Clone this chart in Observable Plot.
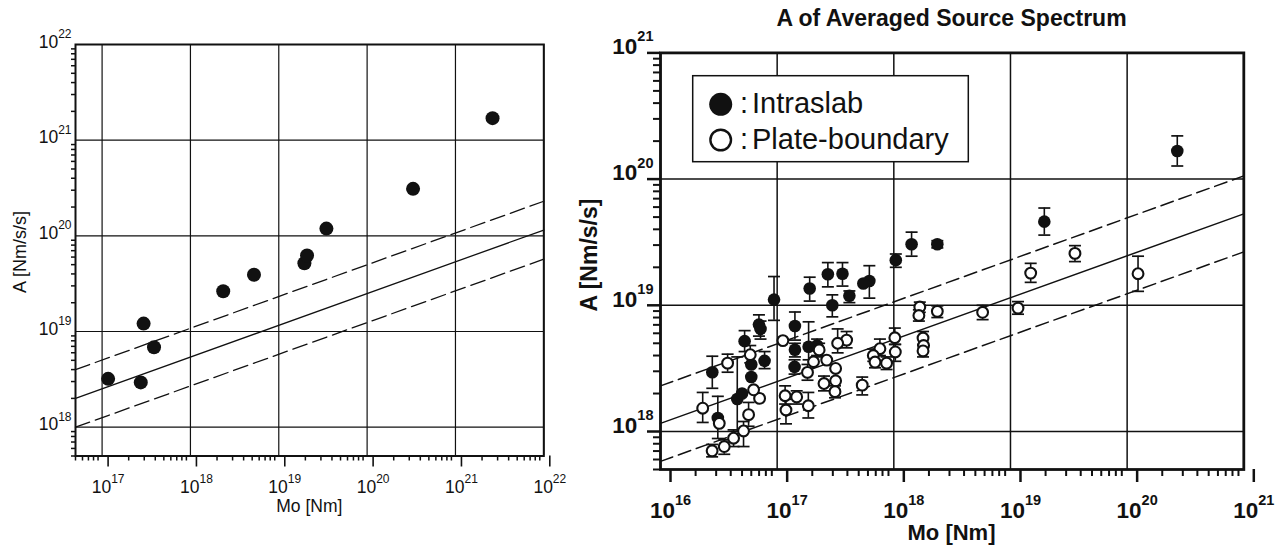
<!DOCTYPE html>
<html>
<head>
<meta charset="utf-8">
<script src="https://cdn.jsdelivr.net/npm/d3@7"></script>
<script src="https://cdn.jsdelivr.net/npm/@observablehq/plot@0.6"></script>
<style>
  html, body { margin: 0; padding: 0; background: #fff; }
  #page { position: relative; width: 1287px; height: 549px; overflow: hidden; font-family: "Liberation Sans", Arial, sans-serif; }
  #left { position: absolute; left: 0; top: 0; }
  #right { position: absolute; left: 580px; top: 0; }
  #overlay { position: absolute; left: 0; top: 0; pointer-events: none; }
</style>
</head>
<body>
<div id="page">
  <div id="left"></div>
  <div id="right"></div>
  <svg id="overlay" width="1287" height="549"></svg>
</div>
<script>
// ---------------- DATA ----------------
// Left panel
const leftXDomain = [5e16, 1e22];
const leftYDomain = [5e17, 1e22];
const leftXTicks = [1e17, 1e18, 1e19, 1e20, 1e21, 1e22];
const leftYTicks = [1e18, 1e19, 1e20, 1e21, 1e22];
const leftMo = [1.17e17, 2.95e17, 2.74e17, 3.87e17, 2.35e18, 5.24e18, 1.95e19, 2.09e19, 3.46e19, 3.31e20, 2.63e21];
const leftA  = [3.2e18, 1.21e19, 2.94e18, 6.84e18, 2.64e19, 3.92e19, 5.18e19, 6.23e19, 1.19e20, 3.1e20, 1.7e21];
const leftLineMo = [5e16, 1e22];
const leftSolidA = [2.0e18, 1.15e20];
const leftUpperA = [4.0e18, 2.3e20];
const leftLowerA = [1.0e18, 5.7e19];

// Right panel
const rightXDomain = [1e16, 1e21];
const rightYDomain = [5e17, 1e21];
const rightXTicks = [1e16, 1e17, 1e18, 1e19, 1e20, 1e21];
const rightYTicks = [1e18, 1e19, 1e20, 1e21];
const rightLineMo = [1e16, 1e21];
const rightSolidA = [1.16e18, 5.3e19];
const rightUpperA = [2.3e18, 1.06e20];
const rightLowerA = [5.8e17, 2.65e19];

const intraMo = [2.69e20, 1.95e19, 2.36e18, 1.42e18, 1.04e18, 6.17e17, 5.48e17, 3.63e17, 2.72e17, 4.16e17, 2.97e17, 1.9e17, 9.4e16, 1.42e17, 6.98e16, 7.2e16, 5.26e16, 7.8e16, 1.42e17, 1.41e17, 1.86e17, 2.2e17, 6.0e16, 6.0e16, 2.78e16, 4.55e16, 5.0e16, 3.1e16];
const intraA  = [1.67e20, 4.6e19, 3.05e19, 3.05e19, 2.28e19, 1.56e19, 1.49e19, 1.78e19, 1.76e19, 1.19e19, 1.0e19, 1.36e19, 1.11e19, 6.86e18, 7.03e18, 6.5e18, 5.2e18, 3.63e18, 4.45e18, 3.25e18, 4.7e18, 4.8e18, 3.4e18, 2.7e18, 2.95e18, 1.81e18, 2.0e18, 1.28e18];
const intraLo = [1.27e20, 3.6e19, 2.85e19, 2.45e19, 2.0e19, 1.14e19, null, 1.42e19, 1.4e19, 1.05e19, 8.1e18, 1.08e19, 7.6e18, 5.3e18, 5.7e18, 5.4e18, 4.3e18, 3.15e18, 3.9e18, 2.85e18, 3.7e18, 4.0e18, null, null, 2.2e18, 1.0e18, null, 8.8e17];
const intraHi = [2.2e20, 5.9e19, 3.25e19, 3.8e19, 2.55e19, 2.06e19, null, 2.18e19, 2.18e19, 1.3e19, 1.21e19, 1.67e19, 1.69e19, 8.85e18, 8.4e18, 7.5e18, 6.3e18, 4.3e18, 5.0e18, 3.7e18, 7.4e18, 5.4e18, null, null, 3.95e18, 3.9e18, null, 1.9e18];

const plateMo = [1.24e20, 3.57e19, 1.49e19, 1.16e19, 5.77e18, 2.36e18, 1.67e18, 1.64e18, 1.78e18, 1.8e18, 1.78e18, 1.02e18, 1.03e18, 7.6e17, 6.67e17, 6.9e17, 8.67e17, 5.36e17, 3.94e17, 3.3e17, 3.17e17, 3.17e17, 3.13e17, 2.66e17, 2.52e17, 2.29e17, 2.05e17, 1.82e17, 1.85e17, 1.47e17, 1.17e17, 1.19e17, 1.12e17, 7.07e16, 6.28e16, 5.88e16, 5.69e16, 5.15e16, 4.23e16, 3.76e16, 3.52e16, 3.19e16, 2.77e16, 2.3e16];
const plateA  = [1.78e19, 2.58e19, 1.8e19, 9.5e18, 8.8e18, 8.96e18, 9.7e18, 8.3e18, 5.5e18, 4.8e18, 4.35e18, 5.53e18, 4.27e18, 4.53e18, 4.0e18, 3.55e18, 3.48e18, 2.33e18, 5.3e18, 5.0e18, 3.16e18, 2.52e18, 2.07e18, 3.68e18, 2.4e18, 4.43e18, 3.57e18, 2.94e18, 1.6e18, 1.88e18, 1.92e18, 1.48e18, 5.25e18, 1.83e18, 2.14e18, 4.06e18, 1.36e18, 1.01e18, 8.85e17, 3.48e18, 7.6e17, 1.16e18, 7.03e17, 1.53e18];
const plateLo = [1.29e19, 2.22e19, 1.52e19, 8.5e18, 7.7e18, 8.0e18, 8.8e18, 7.5e18, 4.9e18, null, 3.9e18, 4.9e18, 3.6e18, 4.0e18, 3.6e18, 3.2e18, 3.1e18, 1.95e18, 4.6e18, 4.2e18, null, null, 1.85e18, null, 2.1e18, 3.9e18, null, 2.55e18, 1.28e18, 1.65e18, 1.65e18, 1.15e18, null, null, null, 3.5e18, 1.1e18, 7.6e17, 7.6e17, 2.95e18, 6.6e17, null, 6.3e17, 1.18e18];
const plateHi = [2.45e19, 2.97e19, 2.15e19, 1.07e19, 1.0e19, 9.9e18, 1.06e19, 9.2e18, 6.2e18, null, 4.8e18, 6.6e18, 4.9e18, 5.4e18, 4.5e18, 4.0e18, 3.9e18, 2.7e18, 6.2e18, 6.5e18, null, null, 2.3e18, null, 2.75e18, 5.0e18, null, 3.4e18, 2.04e18, 2.1e18, 2.3e18, 1.8e18, null, null, null, 4.8e18, 1.7e18, 1.2e18, 1.03e18, 4.1e18, 8.6e17, null, 7.9e17, 2.04e18];

const titleText = "A of Averaged Source Spectrum";
const xTitle = "Mo [Nm]";
const yTitle = "A [Nm/s/s]";
const legendLabels = ["Intraslab", "Plate-boundary"];

// ---------------- HELPERS ----------------
const INK = "#111";
const FONT = '"Liberation Sans", Arial, Helvetica, sans-serif';
const NS = "http://www.w3.org/2000/svg";
const fmt = d => "10^" + Math.round(Math.log10(d));
function minorOf(domain) {
  const out = [];
  const e0 = Math.floor(Math.log10(domain[0])), e1 = Math.ceil(Math.log10(domain[1]));
  for (let e = e0; e < e1; e++) for (let k = 2; k <= 9; k++) {
    const v = k * Math.pow(10, e);
    if (v >= domain[0] * 0.999 && v <= domain[1] * 1.001) out.push(v);
  }
  return out;
}
const lineTable = (mo, a) => mo.map((m, i) => ({Mo: m, A: a[i]}));
const ptsTable = (mo, a, lo, hi) => mo.map((m, i) => ({Mo: m, A: a[i], lo: lo ? lo[i] : null, hi: hi ? hi[i] : null}));
const capSymbol = { draw(ctx, size) { const r = Math.sqrt(size / Math.PI); ctx.moveTo(-r, 0); ctx.lineTo(r, 0); } };

function supify(svg, supFs, raise) {
  svg.querySelectorAll("text").forEach(t => {
    const m = /^10\^(\d+)$/.exec(t.textContent.trim());
    if (!m) return;
    while (t.firstChild) t.removeChild(t.firstChild);
    const a = document.createElementNS(NS, "tspan");
    a.textContent = "10";
    const b = document.createElementNS(NS, "tspan");
    b.setAttribute("dy", -raise);
    b.setAttribute("font-size", supFs);
    b.textContent = m[1];
    t.append(a, b);
  });
}

// ---------------- LEFT CHART ----------------
const leftPts = ptsTable(leftMo, leftA);
const leftPlot = Plot.plot({
  width: 580, height: 549,
  marginLeft: 75, marginRight: 36.7, marginTop: 44, marginBottom: 93.5,
  style: {fontFamily: FONT, background: "transparent", overflow: "visible", color: INK},
  x: {type: "log", domain: leftXDomain},
  y: {type: "log", domain: leftYDomain},
  marks: [
    Plot.gridX(leftXTicks, {stroke: INK, strokeOpacity: 1, strokeWidth: 1.2}),
    Plot.gridY(leftYTicks, {stroke: INK, strokeOpacity: 1, strokeWidth: 1.2}),
    Plot.line(lineTable(leftLineMo, leftSolidA), {x: "Mo", y: "A", stroke: INK, strokeWidth: 1.3}),
    Plot.line(lineTable(leftLineMo, leftUpperA), {x: "Mo", y: "A", stroke: INK, strokeWidth: 1.3, strokeDasharray: "15,6"}),
    Plot.line(lineTable(leftLineMo, leftLowerA), {x: "Mo", y: "A", stroke: INK, strokeWidth: 1.3, strokeDasharray: "15,6"}),
    Plot.dot(leftPts, {x: "Mo", y: "A", r: 7, fill: INK}),
    Plot.axisX(minorOf(leftXDomain), {tickSize: 5, tickFormat: () => "", strokeWidth: 1.5, label: null}),
    Plot.axisX(leftXTicks, {tickSize: 11, tickPadding: 13.5, tickFormat: fmt, fontSize: 17.5, dx: 6, strokeWidth: 1.6, label: null}),
    Plot.axisY(minorOf(leftYDomain), {tickSize: 4, tickFormat: () => "", strokeWidth: 1.5, label: null}),
    Plot.axisY(leftYTicks, {tickSize: 0, tickPadding: 4, tickFormat: fmt, fontSize: 17.5, dy: -2.5, label: null}),
    Plot.frame({stroke: INK, strokeWidth: 2})
  ]
});
supify(leftPlot, 12, 9.6);
document.getElementById("left").append(leftPlot);

// ---------------- RIGHT CHART ----------------
const intraPts = ptsTable(intraMo, intraA, intraLo, intraHi);
const platePts = ptsTable(plateMo, plateA, plateLo, plateHi);
const allPts = intraPts.concat(platePts).filter(d => d.lo != null && d.hi != null);
const caps = allPts.flatMap(d => [{Mo: d.Mo, v: d.lo}, {Mo: d.Mo, v: d.hi}]);

const rightPlot = Plot.plot({
  width: 707, height: 549,
  marginLeft: 80, marginRight: 43.7, marginTop: 52.4, marginBottom: 80,
  style: {fontFamily: FONT, fontWeight: "bold", background: "transparent", overflow: "visible", color: INK},
  x: {type: "log", domain: rightXDomain},
  y: {type: "log", domain: rightYDomain},
  marks: [
    Plot.gridX(rightXTicks, {stroke: INK, strokeOpacity: 1, strokeWidth: 1.5}),
    Plot.gridY(rightYTicks, {stroke: INK, strokeOpacity: 1, strokeWidth: 1.5}),
    Plot.line(lineTable(rightLineMo, rightSolidA), {x: "Mo", y: "A", stroke: INK, strokeWidth: 1.5}),
    Plot.line(lineTable(rightLineMo, rightUpperA), {x: "Mo", y: "A", stroke: INK, strokeWidth: 1.5, strokeDasharray: "13,6"}),
    Plot.line(lineTable(rightLineMo, rightLowerA), {x: "Mo", y: "A", stroke: INK, strokeWidth: 1.5, strokeDasharray: "13,6"}),
    Plot.ruleX(allPts, {x: "Mo", y1: "lo", y2: "hi", stroke: INK, strokeWidth: 1.6}),
    Plot.dot(caps, {x: "Mo", y: "v", r: 6, symbol: capSymbol, stroke: INK, strokeWidth: 1.7, fill: "none"}),
    Plot.dot(intraPts, {x: "Mo", y: "A", r: 6.3, fill: INK}),
    Plot.dot(platePts, {x: "Mo", y: "A", r: 5.4, fill: "#fff", stroke: INK, strokeWidth: 2.1}),
    Plot.axisX(minorOf(rightXDomain), {tickSize: 7, tickFormat: () => "", strokeWidth: 2, label: null}),
    Plot.axisX(rightXTicks, {tickSize: 13, tickPadding: 19.7, tickFormat: fmt, fontSize: 22.5, dx: 10, strokeWidth: 2.5, label: null}),
    Plot.axisY(minorOf(rightYDomain), {tickSize: 7, tickFormat: () => "", strokeWidth: 2, label: null}),
    Plot.axisY(rightYTicks, {tickSize: 13, tickFormat: () => "", strokeWidth: 2.5, label: null}),
    Plot.axisY(rightYTicks, {tickSize: 0, tickPadding: 7, tickFormat: fmt, fontSize: 22.5, dy: -6, label: null}),
    Plot.frame({stroke: INK, strokeWidth: 2.8})
  ]
});
supify(rightPlot, 14.5, 12.8);
document.getElementById("right").append(rightPlot);

// ---------------- TITLES & LEGEND (overlay) ----------------
const ov = d3.select("#overlay").style("font-family", FONT);
// left titles
ov.append("text").attr("x", 309.3).attr("y", 511.7).attr("text-anchor", "middle")
  .attr("font-size", 17.5).attr("fill", INK).text(xTitle);
ov.append("text").attr("transform", "translate(26,252) rotate(-90)").attr("text-anchor", "middle")
  .attr("font-size", 18).attr("fill", INK).text(yTitle);
// right titles
ov.append("text").attr("x", 951.5).attr("y", 26).attr("text-anchor", "middle")
  .attr("font-size", 23).attr("font-weight", "bold").attr("fill", INK).text(titleText);
ov.append("text").attr("x", 951.5).attr("y", 540).attr("text-anchor", "middle")
  .attr("font-size", 22).attr("font-weight", "bold").attr("fill", INK).text(xTitle);
ov.append("text").attr("transform", "translate(597,255) rotate(-90)").attr("text-anchor", "middle")
  .attr("font-size", 23).attr("font-weight", "bold").attr("fill", INK).text(yTitle);
// legend
const lg = ov.append("g");
lg.append("rect").attr("x", 692.7).attr("y", 75.7).attr("width", 275.6).attr("height", 86)
  .attr("fill", "#fff").attr("stroke", INK).attr("stroke-width", 1.5);
lg.append("circle").attr("cx", 720.7).attr("cy", 104.3).attr("r", 11.5).attr("fill", INK);
lg.append("circle").attr("cx", 720.7).attr("cy", 140).attr("r", 10.3).attr("fill", "#fff").attr("stroke", INK).attr("stroke-width", 2.4);
[[113.3, legendLabels[0]], [149.3, legendLabels[1]]].forEach(([y, label]) => {
  lg.append("text").attr("x", 740).attr("y", y).attr("font-size", 29).attr("fill", INK).text(":");
  lg.append("text").attr("x", 752).attr("y", y).attr("font-size", 29).attr("fill", INK).text(label);
});
</script>
</body>
</html>
